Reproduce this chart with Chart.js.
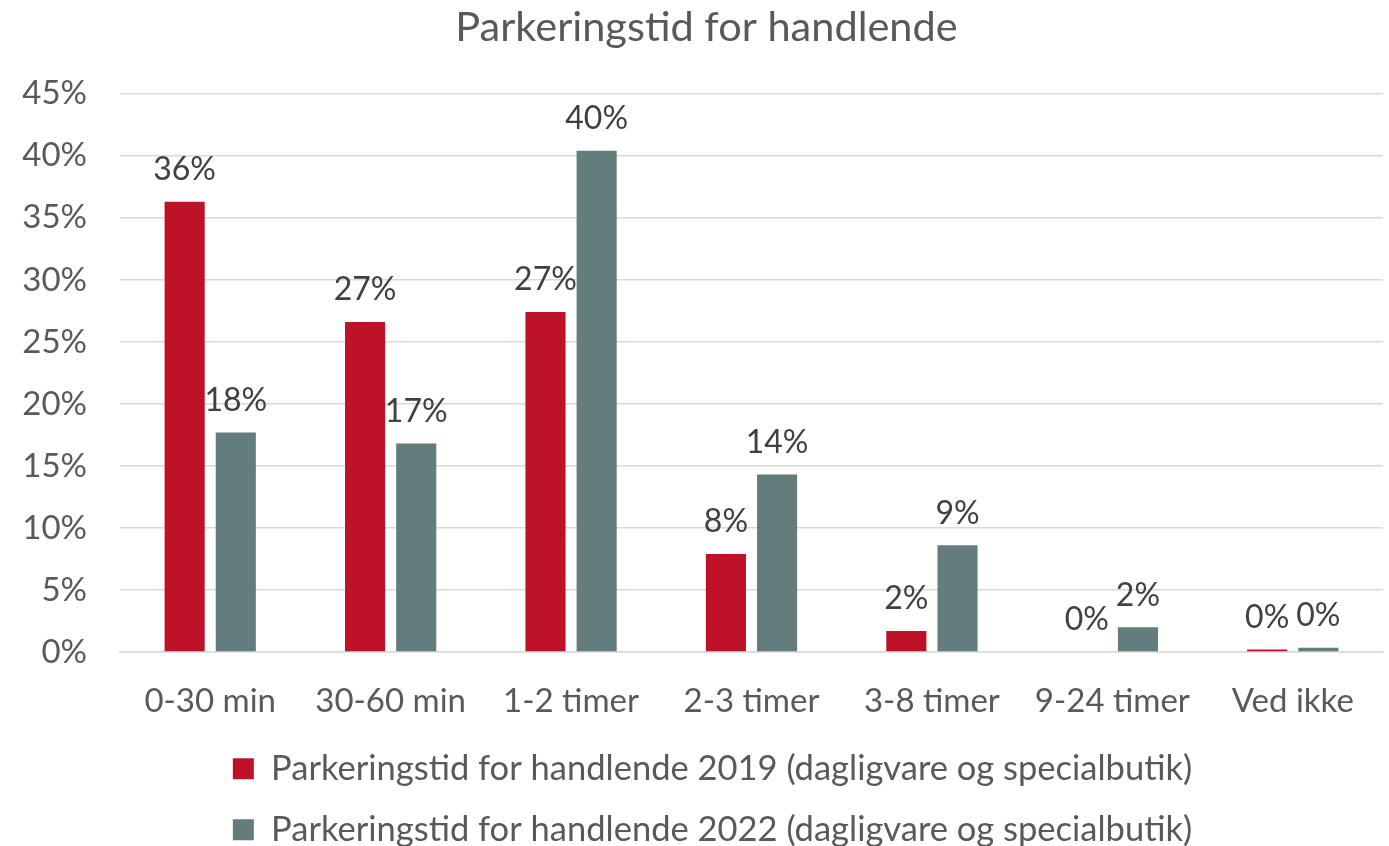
<!DOCTYPE html>
<html>
<head>
<meta charset="utf-8">
<script src="https://cdn.jsdelivr.net/npm/chart.js@4/dist/chart.umd.min.js"></script>
<style>
  html, body { margin: 0; padding: 0; background: #ffffff; }
  #wrap { width: 1389px; height: 846px; position: relative; }
</style>
</head>
<body>
<div id="wrap"><canvas id="c"></canvas></div>
<script>
const categories = ['0-30 min', '30-60 min', '1-2 timer', '2-3 timer', '3-8 timer', '9-24 timer', 'Ved ikke'];
const series2019 = [36.3, 26.6, 27.4, 7.9, 1.7, 0, 0.2];
const series2022 = [17.7, 16.8, 40.4, 14.3, 8.6, 2.0, 0.35];
const seriesNames = [
  'Parkeringstid for handlende 2019 (dagligvare og specialbutik)',
  'Parkeringstid for handlende 2022 (dagligvare og specialbutik)'
];
const yTicks = [0, 5, 10, 15, 20, 25, 30, 35, 40, 45];
const chartTitle = 'Parkeringstid for handlende';

const FONT = 'Lato, "Liberation Sans", sans-serif';

const valueLabels = {
  id: 'valueLabels',
  afterDatasetsDraw(chart) {
    const ctx = chart.ctx;
    ctx.save();
    ctx.font = '32px ' + FONT;
    ctx.fillStyle = '#404040';
    ctx.textAlign = 'center';
    ctx.textBaseline = 'middle';
    chart.data.datasets.forEach((ds, di) => {
      const meta = chart.getDatasetMeta(di);
      meta.data.forEach((bar, i) => {
        const v = ds.data[i];
        ctx.fillText(Math.round(v) + '%', bar.x, bar.y - 32);
      });
    });
    ctx.restore();
  }
};

// Shift title and legend horizontally to match the reference's centring
const boxShift = {
  id: 'boxShift',
  afterLayout(chart) {
    const t = chart.titleBlock;
    if (t) { t.left += 15; t.right += 15; }
    const l = chart.legend;
    if (l) { l.left += 21; l.right += 21; }
  }
};

new Chart(document.getElementById('c'), {
  type: 'bar',
  data: {
    labels: categories,
    datasets: [
      { label: seriesNames[0], data: series2019, backgroundColor: '#BE1229', borderWidth: 0,
        categoryPercentage: 0.567, barPercentage: 0.784 },
      { label: seriesNames[1], data: series2022, backgroundColor: '#627D7C', borderWidth: 0,
        categoryPercentage: 0.567, barPercentage: 0.784 }
    ]
  },
  options: {
    responsive: true,
    maintainAspectRatio: false,
    animation: false,
    layout: { padding: { left: 0, right: 6, top: 0, bottom: -11 } },
    plugins: {
      title: {
        display: true,
        text: chartTitle,
        color: '#595959',
        font: { family: FONT, size: 41.5, weight: 'normal', lineHeight: 1.2 },
        padding: { top: 3, bottom: 41 }
      },
      legend: {
        display: true,
        position: 'bottom',
        labels: {
          color: '#595959',
          font: { family: FONT, size: 34.5 },
          boxWidth: 21,
          boxHeight: 21,
          padding: 26.5
        }
      },
      tooltip: { enabled: false }
    },
    scales: {
      x: {
        grid: { display: false, drawTicks: false },
        border: { display: true, color: '#d9d9d9', width: 1.5 },
        ticks: { color: '#595959', font: { family: FONT, size: 33 }, padding: 30, maxRotation: 0 },
        afterFit(scale) { scale.height = 73; }
      },
      y: {
        min: 0,
        max: 45,
        afterBuildTicks(scale) { scale.ticks = yTicks.map(v => ({ value: v })); },
        grid: { color: '#d9d9d9', lineWidth: 1.5, drawTicks: false },
        border: { display: false },
        ticks: { color: '#595959', font: { family: FONT, size: 33 }, padding: 33,
                 callback: v => v + '%' },
        afterFit(scale) { scale.width = 120; }
      }
    }
  },
  plugins: [valueLabels, boxShift]
});
</script>
</body>
</html>
